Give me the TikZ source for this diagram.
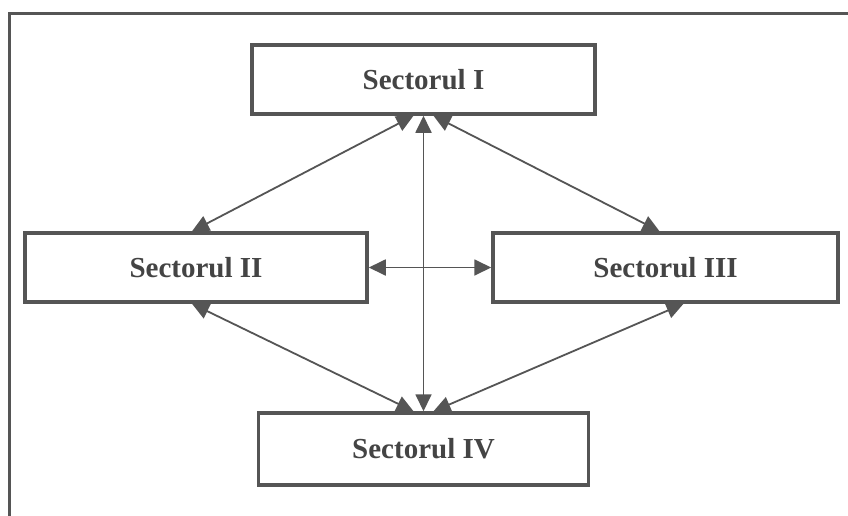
\documentclass[tikz,border=0pt]{standalone}
\usepackage{fontspec}
\setmainfont{Liberation Serif}
\usetikzlibrary{arrows.meta}
\definecolor{ink}{HTML}{555555}
\begin{document}
\begin{tikzpicture}[x=1pt,y=-1pt,
  sbox/.style={draw=ink, line width=3.5pt, fill=white, inner sep=0pt, font=\bfseries\fontsize{29}{31}\selectfont, text=ink!80!black},
  arr/.style={draw=ink, line width=1.8pt, {Triangle[length=17pt,width=16pt]}-{Triangle[length=17pt,width=16pt]}, fill=ink}]
\useasboundingbox (0,0) rectangle (848,515);
\fill[white] (0,0) rectangle (848,515);
\draw[ink, line width=3pt] (9,520) -- (9,13) -- (855,13);
\node[sbox, minimum width=343pt, minimum height=69pt] (s1) at (423.5,79.5) {Sectorul I};
\node[sbox, minimum width=342pt, minimum height=69pt] (s2) at (196,267.5) {Sectorul II};
\node[sbox, minimum width=345pt, minimum height=69pt] (s3) at (665.5,267.5) {Sectorul III};
\node[sbox, minimum width=330pt, minimum height=72pt] (s4) at (423.5,449) {Sectorul IV};
\draw[arr] ([xshift=-10pt]s1.south) -- ([xshift=-4pt]s2.north);
\draw[arr] ([xshift=10pt]s1.south) -- ([xshift=-6pt]s3.north);
\draw[arr] (s1.south) -- (s4.north);
\draw[arr] (s2.east) -- (s3.west);
\draw[arr] ([xshift=-4pt]s2.south) -- ([xshift=-10pt]s4.north);
\draw[arr] ([xshift=18pt]s3.south) -- ([xshift=10pt]s4.north);
\end{tikzpicture}
\end{document}
